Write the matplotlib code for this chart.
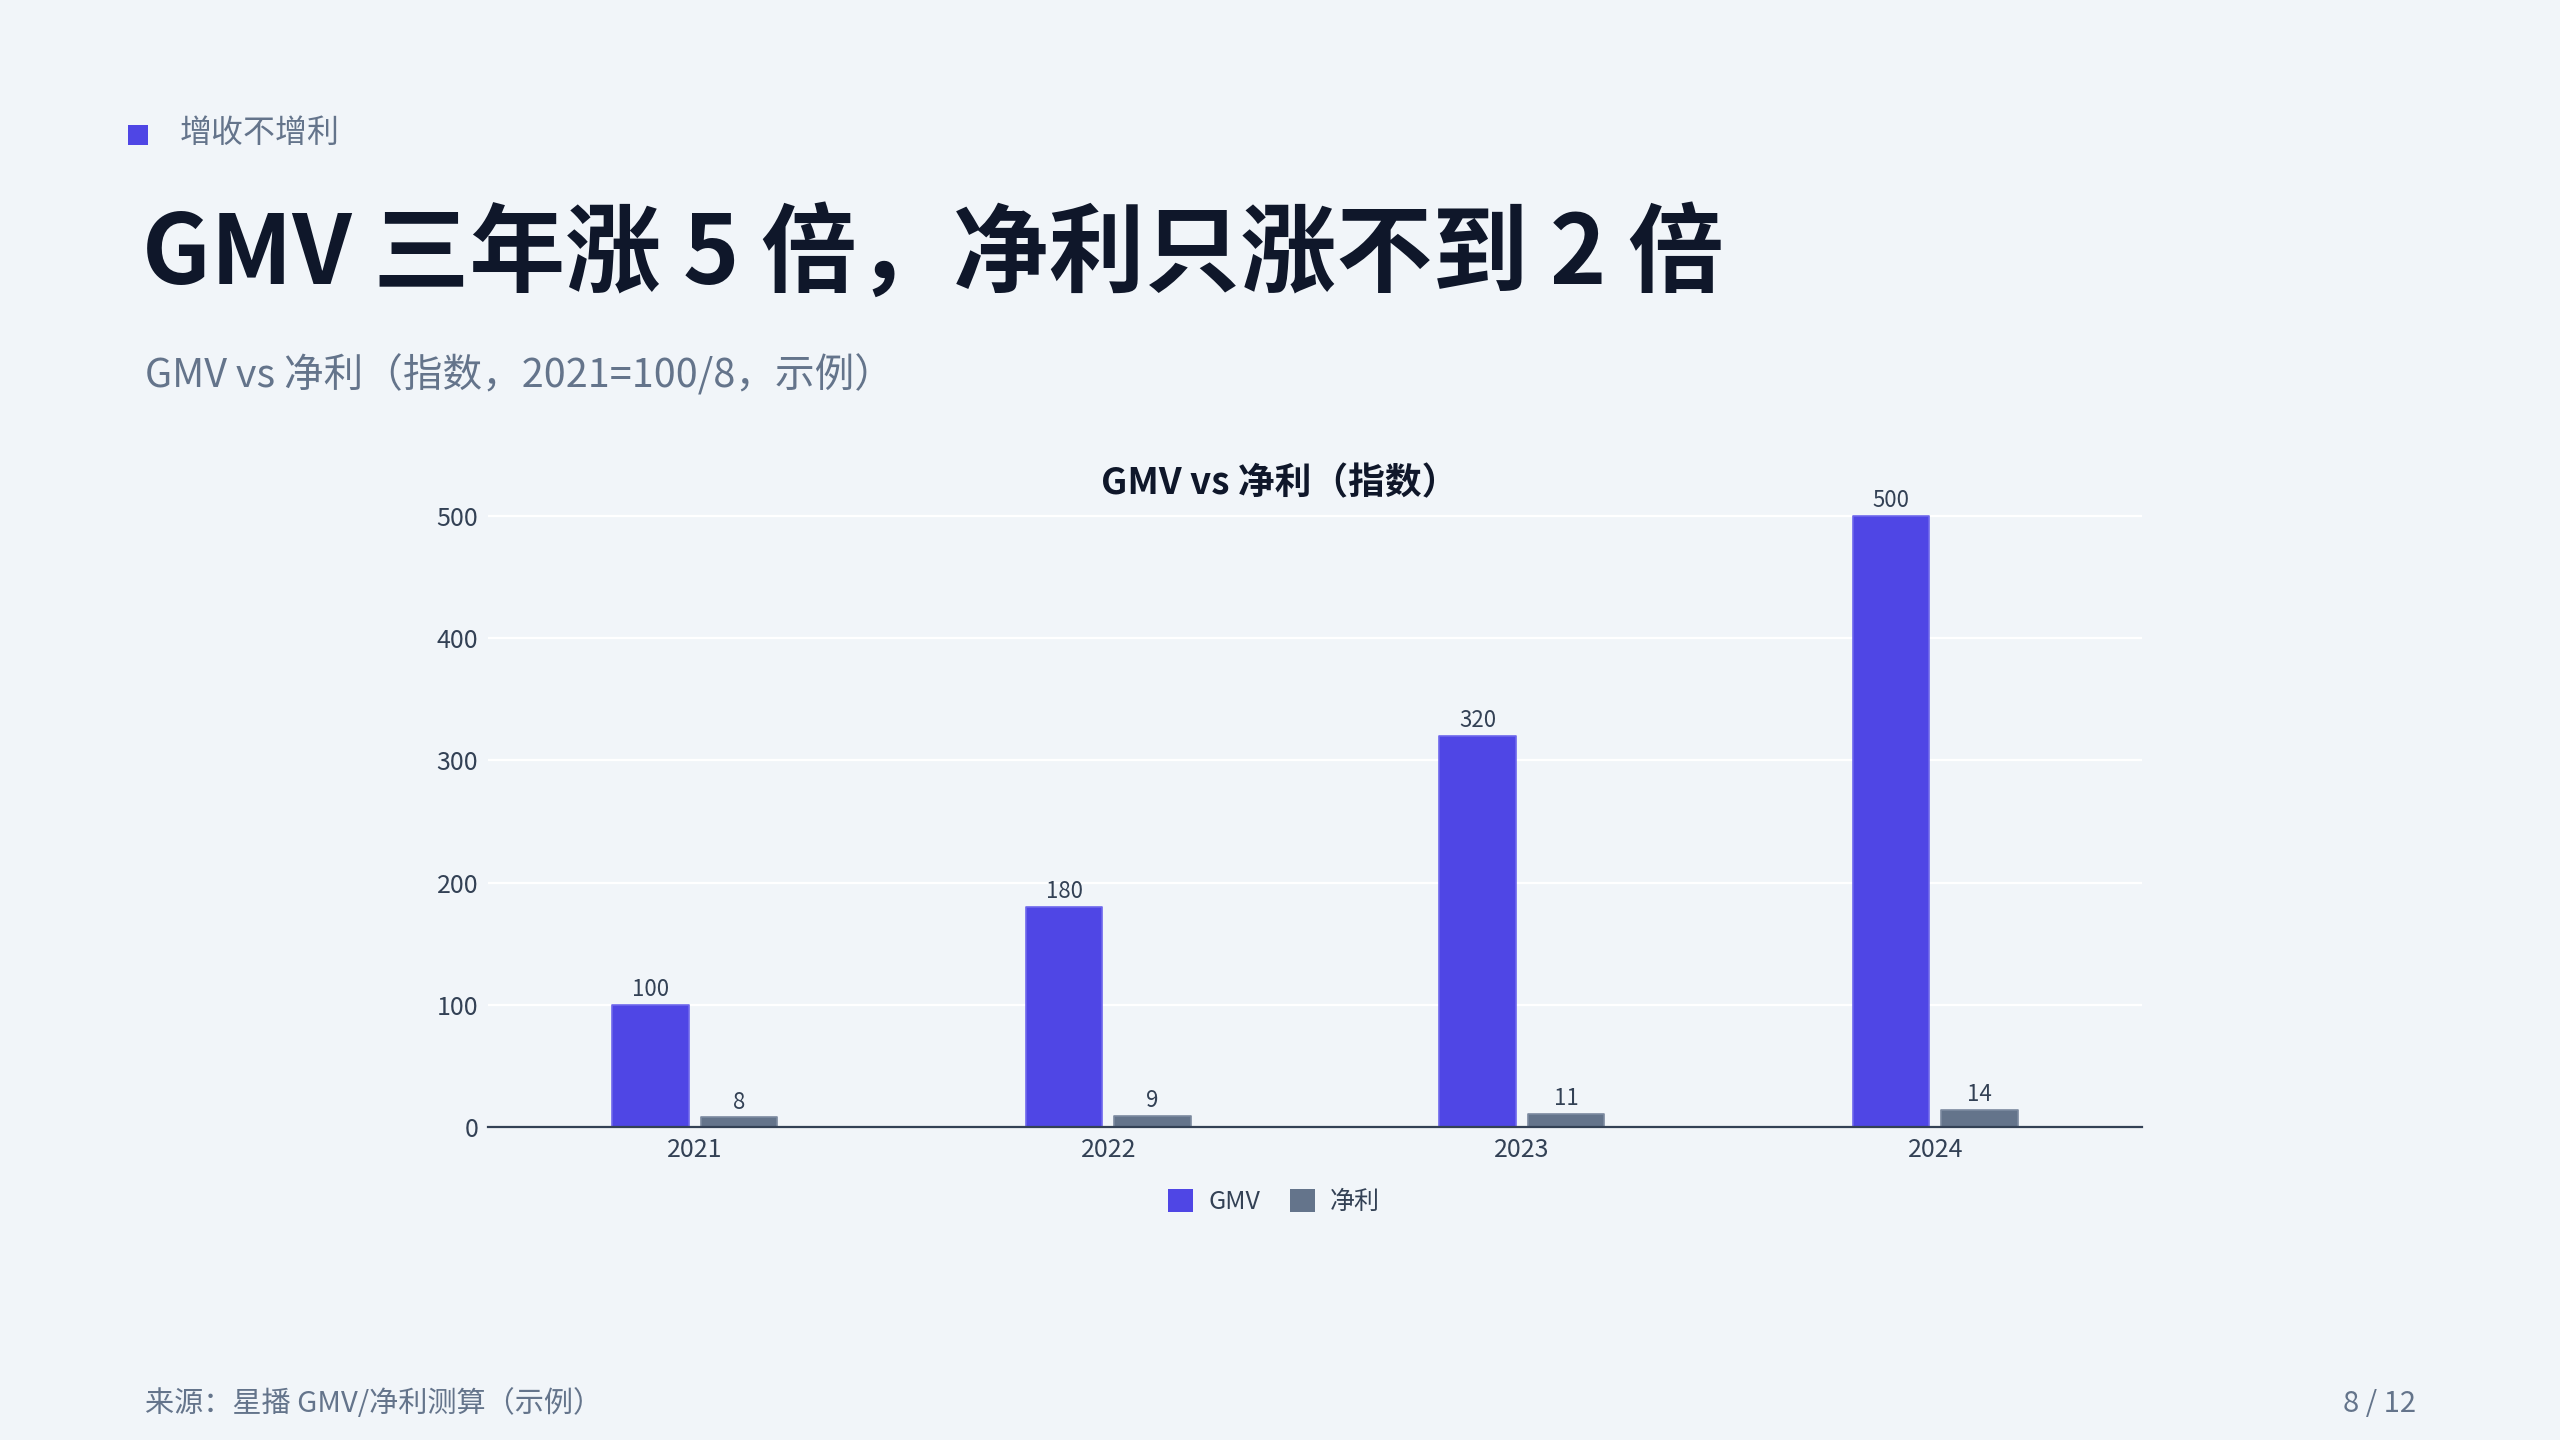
import numpy as np
import matplotlib
matplotlib.use("Agg")
from matplotlib import pyplot as plt
from matplotlib.patches import Patch, Rectangle

plt.rcParams['font.family'] = ['Noto Sans CJK SC', 'DejaVu Sans']

# --- data ---
years = ["2021", "2022", "2023", "2024"]
gmv = [100, 180, 320, 500]
net_profit = [8, 9, 11, 14]
series_names = ["GMV", "净利"]
y_ticks = [0, 100, 200, 300, 400, 500]

# --- colours ---
BG = "#f1f5f9"
INDIGO = "#4f46e5"
SLATE = "#64748b"
DARK = "#0f172a"
TEXT = "#334155"

fig = plt.figure(figsize=(25.6, 14.4), dpi=100, facecolor=BG)

# --- header texts ---
fig.patches.append(Rectangle((128 / 2560, 1 - 145 / 1440), 20 / 2560, 20 / 1440,
                             transform=fig.transFigure, facecolor=INDIGO,
                             edgecolor="none"))
fig.text(180 / 2560, 1 - 133 / 1440, "增收不增利", fontsize=23, color=SLATE,
         va="center", ha="left")
fig.text(142 / 2560, 1 - 256 / 1440, "GMV 三年涨 5 倍，净利只涨不到 2 倍",
         fontsize=69, fontweight="bold", color=DARK, va="center", ha="left")
fig.text(145 / 2560, 1 - 376 / 1440, "GMV vs 净利（指数，2021=100/8，示例）",
         fontsize=28.5, color=SLATE, va="center", ha="left")

# --- footer ---
fig.text(145 / 2560, 1 - 1404 / 1440, "来源：星播 GMV/净利测算（示例）",
         fontsize=21, color=SLATE, va="center", ha="left")
fig.text(2416 / 2560, 1 - 1404 / 1440, "8 / 12", fontsize=21, color=SLATE,
         va="center", ha="right")

# --- chart ---
ymax = 525
bottom = (1440 - 1127) / 1440
top = (1440 - (1127 - ymax * 611 / 500)) / 1440
ax = fig.add_axes([488 / 2560, bottom, (2142 - 488) / 2560, top - bottom])
ax.set_facecolor(BG)

x = np.arange(len(years))
w = 0.185
off = 0.107
b1 = ax.bar(x - off, gmv, w, color=INDIGO, edgecolor="#6e67ec", linewidth=1.2,
            joinstyle="round", zorder=3)
b2 = ax.bar(x + off, net_profit, w, color=SLATE, edgecolor="#7c8aa0",
            linewidth=1.2, joinstyle="round", zorder=3)

for bars, vals in ((b1, gmv), (b2, net_profit)):
    for r, v in zip(bars, vals):
        ax.text(r.get_x() + r.get_width() / 2, v + 3, str(v), ha="center",
                va="bottom", fontsize=16, color=TEXT)

ax.set_xlim(-0.5, len(years) - 0.5)
ax.set_ylim(0, ymax)
ax.set_yticks(y_ticks)
ax.set_xticks(x)
ax.set_xticklabels(years)
ax.tick_params(axis="both", length=0, labelsize=18, colors=TEXT)
ax.tick_params(axis="y", pad=7)
ax.tick_params(axis="x", pad=7)
ax.grid(axis="y", color="white", linewidth=1.6, zorder=0)
ax.set_axisbelow(True)
for s in ["top", "right", "left"]:
    ax.spines[s].set_visible(False)
ax.spines["bottom"].set_color(TEXT)
ax.spines["bottom"].set_linewidth(1.6)
ax.spines["bottom"].set_zorder(4)

fig.text(0.5, 1 - 484 / 1440, "GMV vs 净利（指数）", fontsize=26.5,
         fontweight="bold", color=DARK, ha="center", va="center")

handles = [Patch(facecolor=INDIGO, edgecolor="none"),
           Patch(facecolor=SLATE, edgecolor="none")]
fig.legend(handles, series_names, loc="center",
           bbox_to_anchor=(1274 / 2560, 1 - 1202 / 1440), ncol=2,
           frameon=False, fontsize=18, labelcolor=TEXT, handlelength=1.0,
           handleheight=1.0, handletextpad=0.6, columnspacing=1.2)

fig.savefig("out.png", dpi=100, facecolor=BG)
